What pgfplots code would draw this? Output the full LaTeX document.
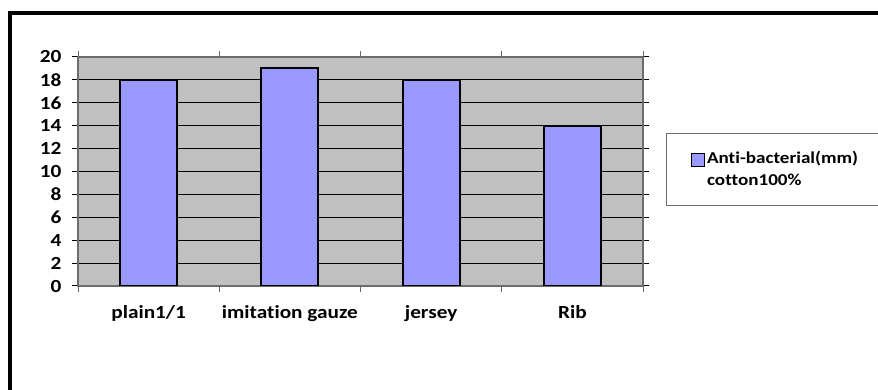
\documentclass[border=0pt]{standalone}
\usepackage{fontspec}
\setmainfont{Carlito}[FakeStretch=1.15, Ligatures=NoCommon]
\usepackage{pgfplots}
\pgfplotsset{compat=1.18}
\definecolor{barfill}{HTML}{9999FF}
\definecolor{plotbg}{HTML}{C0C0C0}
\begin{document}
\begin{tikzpicture}
\useasboundingbox (0,0) rectangle (878bp,390bp);
\draw[line width=4bp] (10bp,-20bp) |- (900bp,377bp);
\begin{axis}[
  scale only axis, width=565bp, height=229bp,
  at={(78bp,104bp)}, anchor=south west,
  xmin=-0.5, xmax=3.5, ymin=0, ymax=20,
  ytick={0,2,...,20},
  xtick={0,1,2,3},
  xticklabels={plain1/1, imitation gauze, jersey, Rib},
  major x tick style={draw=none},
  extra x ticks={-0.5,0.5,1.5,2.5,3.5},
  extra x tick labels={},
  extra x tick style={major x tick style={draw=gray!80!black, line width=1bp}},
  tick align=outside, major tick length=6bp,
  major y tick style={draw=black, line width=1bp},
  ymajorgrids, major grid style={black, line width=0.9bp},
  axis background/.style={fill=plotbg},
  axis line style={draw=gray!85!black, line width=1.2bp},
  /pgf/number format/assume math mode=true,
  ticklabel style={font=\bfseries\fontsize{18.5bp}{20bp}\selectfont},
  yticklabel style={xshift=-7bp},
  xticklabel style={yshift=-10bp},
  legend style={at={(1.0407,0.668)}, anchor=north west, draw=gray!85!black, line width=1bp,
    font=\bfseries\fontsize{16.6bp}{22bp}\selectfont, nodes={align=left},
    inner xsep=22bp, inner ysep=16bp},
  legend cell align=left,
]
\addplot[ybar, bar width=57bp, fill=barfill, draw=black, line width=2bp,
  legend image code/.code={\path[draw=none,fill=none] (0bp,-20bp) rectangle (13bp,20bp);
    \draw[fill=barfill,draw=black,line width=1.2bp] (3bp,3bp) rectangle (16bp,16bp);}]
  coordinates {(0,18) (1,19) (2,18) (3,14)};
\legend{{Anti-bacterial(mm)\hspace*{30bp}\\cotton100\%}}
\end{axis}
\end{tikzpicture}
\end{document}
